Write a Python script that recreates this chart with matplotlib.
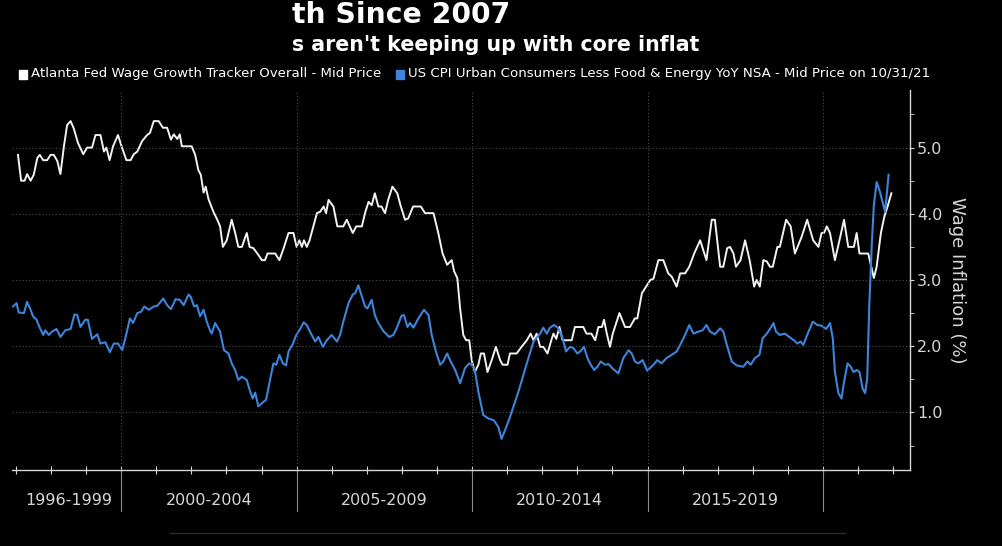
import matplotlib
matplotlib.use("Agg")
import matplotlib.pyplot as plt
import matplotlib.transforms as mtransforms
from matplotlib.patches import Rectangle
from matplotlib.lines import Line2D

# Atlanta Fed wage growth tracker (%) (decimal years)
wage_x = [1997.06, 1997.15, 1997.25, 1997.32, 1997.42, 1997.51, 1997.61, 1997.68, 1997.78, 1997.89,
          1997.99, 1998.08, 1998.18, 1998.27, 1998.37, 1998.46, 1998.56, 1998.65, 1998.77, 1998.92,
          1999.03, 1999.17, 1999.27, 1999.41, 1999.51, 1999.58, 1999.67, 1999.77, 1999.91, 2000.03,
          2000.15, 2000.27, 2000.36, 2000.46, 2000.60, 2000.74, 2000.82, 2000.93, 2001.07, 2001.19,
          2001.31, 2001.42, 2001.50, 2001.60, 2001.67, 2001.73, 2002.01, 2002.11, 2002.20, 2002.27,
          2002.35, 2002.41, 2002.49, 2002.63, 2002.74, 2002.82, 2002.90, 2003.01, 2003.15, 2003.25,
          2003.34, 2003.44, 2003.58, 2003.66, 2003.77, 2003.91, 2004.01, 2004.10, 2004.17, 2004.39,
          2004.51, 2004.63, 2004.77, 2004.91, 2005.00, 2005.08, 2005.15, 2005.21, 2005.29, 2005.37,
          2005.58, 2005.67, 2005.77, 2005.84, 2005.91, 2006.05, 2006.16, 2006.33, 2006.43, 2006.60,
          2006.70, 2006.86, 2006.95, 2007.05, 2007.14, 2007.23, 2007.33, 2007.42, 2007.52, 2007.61,
          2007.73, 2007.87, 2007.96, 2008.09, 2008.18, 2008.32, 2008.54, 2008.66, 2008.90, 2009.03,
          2009.16, 2009.29, 2009.42, 2009.49, 2009.58, 2009.66, 2009.75, 2009.83, 2009.92, 2009.99,
          2010.08, 2010.18, 2010.25, 2010.34, 2010.44, 2010.56, 2010.68, 2010.80, 2010.87, 2011.01,
          2011.08, 2011.27, 2011.41, 2011.56, 2011.67, 2011.75, 2011.84, 2011.94, 2012.03, 2012.15,
          2012.27, 2012.32, 2012.40, 2012.49, 2012.58, 2012.84, 2012.93, 2013.17, 2013.26, 2013.40,
          2013.51, 2013.60, 2013.70, 2013.76, 2013.84, 2013.93, 2014.01, 2014.20, 2014.36, 2014.50,
          2014.64, 2014.71, 2014.84, 2014.96, 2015.08, 2015.17, 2015.31, 2015.45, 2015.59, 2015.69,
          2015.83, 2015.93, 2016.07, 2016.19, 2016.33, 2016.50, 2016.68, 2016.83, 2016.92, 2017.07,
          2017.16, 2017.27, 2017.35, 2017.45, 2017.52, 2017.65, 2017.78, 2017.91, 2018.04, 2018.11,
          2018.20, 2018.30, 2018.40, 2018.49, 2018.57, 2018.70, 2018.77, 2018.95, 2019.08, 2019.20,
          2019.39, 2019.55, 2019.72, 2019.87, 2019.96, 2020.03, 2020.11, 2020.20, 2020.34, 2020.47,
          2020.60, 2020.72, 2020.88, 2020.96, 2021.04, 2021.29, 2021.45, 2021.53, 2021.65, 2021.75,
          2021.84, 2021.95]
wage_y = [4.89, 4.50, 4.50, 4.60, 4.50, 4.59, 4.84, 4.89, 4.81, 4.81,
          4.89, 4.89, 4.80, 4.60, 5.02, 5.34, 5.40, 5.29, 5.07, 4.90,
          5.00, 5.00, 5.19, 5.19, 4.94, 5.00, 4.81, 5.02, 5.19, 4.99,
          4.81, 4.81, 4.90, 4.94, 5.10, 5.19, 5.22, 5.40, 5.40, 5.30,
          5.30, 5.12, 5.20, 5.13, 5.20, 5.02, 5.02, 4.89, 4.66, 4.59,
          4.32, 4.41, 4.22, 4.03, 3.91, 3.81, 3.50, 3.60, 3.91, 3.71,
          3.50, 3.50, 3.71, 3.50, 3.48, 3.38, 3.30, 3.30, 3.40, 3.40,
          3.30, 3.48, 3.71, 3.71, 3.50, 3.60, 3.50, 3.60, 3.50, 3.60,
          4.01, 4.03, 4.11, 4.01, 4.21, 4.11, 3.81, 3.81, 3.91, 3.71,
          3.81, 3.81, 4.01, 4.18, 4.13, 4.31, 4.11, 4.11, 4.01, 4.21,
          4.41, 4.31, 4.13, 3.91, 3.93, 4.11, 4.11, 4.01, 4.01, 3.73,
          3.40, 3.23, 3.30, 3.13, 3.03, 2.57, 2.17, 2.09, 2.09, 1.79,
          1.61, 1.72, 1.89, 1.89, 1.61, 1.79, 1.99, 1.79, 1.72, 1.72,
          1.89, 1.89, 1.99, 2.09, 2.19, 2.09, 2.19, 1.99, 1.99, 1.89,
          2.11, 2.19, 2.11, 2.29, 2.09, 2.09, 2.29, 2.29, 2.19, 2.19,
          2.09, 2.29, 2.29, 2.40, 2.19, 1.99, 2.19, 2.50, 2.29, 2.29,
          2.42, 2.42, 2.80, 2.90, 3.00, 3.02, 3.30, 3.30, 3.10, 3.05,
          2.90, 3.10, 3.10, 3.20, 3.40, 3.60, 3.30, 3.91, 3.91, 3.20,
          3.20, 3.48, 3.50, 3.40, 3.20, 3.30, 3.60, 3.30, 2.90, 3.00,
          2.90, 3.30, 3.28, 3.20, 3.20, 3.50, 3.50, 3.91, 3.81, 3.40,
          3.65, 3.91, 3.60, 3.50, 3.71, 3.71, 3.81, 3.71, 3.30, 3.60,
          3.91, 3.50, 3.50, 3.71, 3.40, 3.40, 3.03, 3.20, 3.71, 3.96,
          4.11, 4.31]

# US CPI less food & energy YoY (%)
cpi_x = [1996.92, 1997.02, 1997.08, 1997.23, 1997.32, 1997.42, 1997.49, 1997.59, 1997.68, 1997.78,
         1997.84, 1997.94, 1998.03, 1998.16, 1998.27, 1998.41, 1998.56, 1998.67, 1998.75, 1998.84,
         1998.98, 1999.05, 1999.17, 1999.32, 1999.41, 1999.55, 1999.68, 1999.79, 1999.91, 2000.03,
         2000.12, 2000.25, 2000.34, 2000.46, 2000.57, 2000.66, 2000.79, 2000.93, 2001.03, 2001.20,
         2001.31, 2001.42, 2001.55, 2001.67, 2001.78, 2001.92, 2001.98, 2002.08, 2002.16, 2002.25,
         2002.35, 2002.44, 2002.54, 2002.58, 2002.68, 2002.82, 2002.93, 2003.06, 2003.15, 2003.25,
         2003.34, 2003.44, 2003.58, 2003.68, 2003.75, 2003.82, 2003.91, 2004.01, 2004.13, 2004.25,
         2004.34, 2004.42, 2004.51, 2004.61, 2004.70, 2004.77, 2004.89, 2004.99, 2005.08, 2005.20,
         2005.29, 2005.41, 2005.53, 2005.62, 2005.75, 2005.86, 2006.00, 2006.15, 2006.24, 2006.33,
         2006.48, 2006.60, 2006.67, 2006.76, 2006.86, 2006.95, 2007.02, 2007.14, 2007.23, 2007.33,
         2007.47, 2007.64, 2007.76, 2007.85, 2007.99, 2008.06, 2008.16, 2008.23, 2008.33, 2008.47,
         2008.63, 2008.76, 2008.85, 2008.97, 2009.09, 2009.18, 2009.29, 2009.39, 2009.52, 2009.66,
         2009.80, 2009.92, 2009.99, 2010.08, 2010.18, 2010.32, 2010.46, 2010.62, 2010.75, 2010.84,
         2010.94, 2011.08, 2011.32, 2011.56, 2011.75, 2011.94, 2012.03, 2012.13, 2012.22, 2012.34,
         2012.46, 2012.58, 2012.68, 2012.79, 2012.89, 2013.00, 2013.10, 2013.19, 2013.29, 2013.36,
         2013.48, 2013.57, 2013.67, 2013.79, 2013.89, 2014.01, 2014.17, 2014.31, 2014.46, 2014.55,
         2014.64, 2014.74, 2014.86, 2014.99, 2015.17, 2015.28, 2015.40, 2015.54, 2015.69, 2015.83,
         2015.93, 2016.07, 2016.19, 2016.31, 2016.45, 2016.57, 2016.68, 2016.78, 2016.92, 2017.07,
         2017.16, 2017.26, 2017.40, 2017.54, 2017.73, 2017.85, 2017.94, 2018.06, 2018.19, 2018.28,
         2018.40, 2018.49, 2018.59, 2018.66, 2018.77, 2018.91, 2019.04, 2019.17, 2019.27, 2019.36,
         2019.44, 2019.55, 2019.71, 2019.84, 2019.96, 2020.09, 2020.20, 2020.28, 2020.34, 2020.44,
         2020.53, 2020.60, 2020.70, 2020.79, 2020.87, 2020.96, 2021.04, 2021.13, 2021.20, 2021.26,
         2021.32, 2021.39, 2021.45, 2021.53, 2021.62, 2021.72, 2021.77, 2021.87]
cpi_y = [2.60, 2.65, 2.51, 2.50, 2.67, 2.55, 2.45, 2.40, 2.28, 2.17,
         2.24, 2.17, 2.22, 2.26, 2.14, 2.24, 2.26, 2.48, 2.47, 2.29,
         2.40, 2.40, 2.11, 2.18, 2.04, 2.06, 1.91, 2.04, 2.04, 1.94,
         2.12, 2.42, 2.35, 2.50, 2.52, 2.60, 2.55, 2.60, 2.61, 2.72,
         2.62, 2.56, 2.71, 2.70, 2.62, 2.78, 2.75, 2.60, 2.62, 2.45,
         2.55, 2.37, 2.23, 2.19, 2.35, 2.22, 1.94, 1.89, 1.74, 1.64,
         1.49, 1.54, 1.49, 1.31, 1.21, 1.30, 1.09, 1.14, 1.19, 1.51,
         1.74, 1.72, 1.87, 1.74, 1.71, 1.92, 2.03, 2.17, 2.24, 2.36,
         2.32, 2.19, 2.07, 2.14, 1.99, 2.09, 2.17, 2.07, 2.17, 2.37,
         2.65, 2.78, 2.80, 2.92, 2.75, 2.60, 2.57, 2.70, 2.47, 2.35,
         2.23, 2.14, 2.17, 2.27, 2.46, 2.47, 2.29, 2.35, 2.28, 2.42,
         2.55, 2.47, 2.17, 1.92, 1.72, 1.77, 1.89, 1.77, 1.64, 1.44,
         1.67, 1.74, 1.72, 1.64, 1.31, 0.96, 0.91, 0.88, 0.78, 0.60,
         0.73, 0.93, 1.31, 1.74, 2.07, 2.19, 2.28, 2.19, 2.28, 2.32,
         2.27, 2.12, 1.92, 1.99, 1.97, 1.89, 1.93, 1.99, 1.82, 1.74,
         1.64, 1.69, 1.77, 1.72, 1.73, 1.66, 1.59, 1.82, 1.94, 1.89,
         1.77, 1.74, 1.79, 1.63, 1.72, 1.79, 1.74, 1.82, 1.87, 1.92,
         2.02, 2.17, 2.32, 2.19, 2.22, 2.24, 2.32, 2.22, 2.18, 2.27,
         2.22, 2.02, 1.77, 1.71, 1.69, 1.77, 1.72, 1.82, 1.87, 2.12,
         2.19, 2.26, 2.35, 2.22, 2.17, 2.19, 2.14, 2.09, 2.04, 2.07,
         2.02, 2.17, 2.37, 2.32, 2.31, 2.26, 2.35, 2.12, 1.61, 1.29,
         1.21, 1.46, 1.74, 1.69, 1.61, 1.64, 1.61, 1.36, 1.29, 1.51,
         2.62, 3.53, 4.13, 4.48, 4.34, 4.13, 4.03, 4.59]

period_labels = ["1996-1999", "2000-2004", "2005-2009", "2010-2014", "2015-2019"]
period_mid = [1998.5, 2002.5, 2007.5, 2012.5, 2017.5]
period_breaks = [2000, 2005, 2010, 2015, 2020]
y_ticks = [1, 2, 3, 4, 5]

wage_name = "Atlanta Fed Wage Growth Tracker Overall - Mid Price"
cpi_name = "US CPI Urban Consumers Less Food & Energy YoY NSA - Mid Price on 10/31/21"

W, H = 1002, 546
fg = "#d6d6d6"
grid_c = "#4d4d4d"
blue = "#3d84da"

fig = plt.figure(figsize=(W / 100, H / 100), dpi=100, facecolor="black")
ax = fig.add_axes([12 / W, (H - 470) / H, 898 / W, 380 / H])
ax.set_facecolor("black")

ax.plot(wage_x, wage_y, color="#f2f2f2", lw=1.4)
ax.plot(cpi_x, cpi_y, color=blue, lw=1.5)

ax.set_xlim(1996.89, 2022.48)
ax.set_ylim(0.13, 5.87)

# spines
for s in ["top", "left"]:
    ax.spines[s].set_visible(False)
for s in ["right", "bottom"]:
    ax.spines[s].set_color(fg)
    ax.spines[s].set_linewidth(1.0)

# y axis on the right
ax.yaxis.tick_right()
ax.set_yticks(y_ticks)
ax.set_yticklabels([f"{v:.1f}" for v in y_ticks])
ax.set_yticks([v + 0.5 for v in range(0, 6)], minor=True)
ax.tick_params(axis="y", which="both", direction="out", length=3, color=fg,
               labelcolor=fg, labelsize=11.5, pad=2)
ax.grid(axis="y", which="major", color=grid_c, linestyle=(0, (1, 2)), lw=0.8)

# yearly ticks along the bottom, no labels
ax.set_xticks(list(range(1997, 2023)))
ax.set_xticklabels([])
ax.tick_params(axis="x", which="major", direction="inout", length=6, color=fg, width=0.8)

for yr in period_breaks:
    ax.axvline(yr, color=grid_c, linestyle=(0, (1, 2)), lw=0.8)

# period dividers and labels under the axis
trans = mtransforms.blended_transform_factory(ax.transData, ax.transAxes)
for yr in period_breaks:
    ax.add_line(Line2D([yr, yr], [0, -0.108], transform=trans, color="#8c8c8c",
                       lw=0.8, clip_on=False))
for lab, xm in zip(period_labels, period_mid):
    ax.text(xm, -0.08, lab, transform=trans, ha="center", va="center",
            color=fg, fontsize=11.5)

fig.text(957 / W, 1 - 280 / H, "Wage Inflation (%)", rotation=-90, ha="center",
         va="center", color=fg, fontsize=13)

# title block (left part of original is blurred out)
fig.text(292 / W, 1 - 15 / H, "th Since 2007", color="white", fontsize=20.3,
         weight="bold", ha="left", va="center")
fig.text(292 / W, 1 - 45 / H, "s aren't keeping up with core inflat", color="white",
         fontsize=14.8, weight="bold", ha="left", va="center")

# legend row
fig.add_artist(Rectangle((19 / W, 1 - 79 / H), 8 / W, 9 / H, transform=fig.transFigure,
                         color="white"))
fig.text(31 / W, 1 - 74 / H, wage_name, color="white", fontsize=9.6,
         ha="left", va="center")
fig.add_artist(Rectangle((396 / W, 1 - 79 / H), 8 / W, 9 / H, transform=fig.transFigure,
                         color=blue))
fig.text(408 / W, 1 - 74 / H, cpi_name, color="white", fontsize=9.6,
         ha="left", va="center")

# faint bar at the very bottom
fig.add_artist(Line2D([170 / W, 845 / W], [1 - 533 / H, 1 - 533 / H],
                      transform=fig.transFigure, color="#2b2b2b", lw=1))

fig.savefig("out.png", dpi=100, facecolor="black")
